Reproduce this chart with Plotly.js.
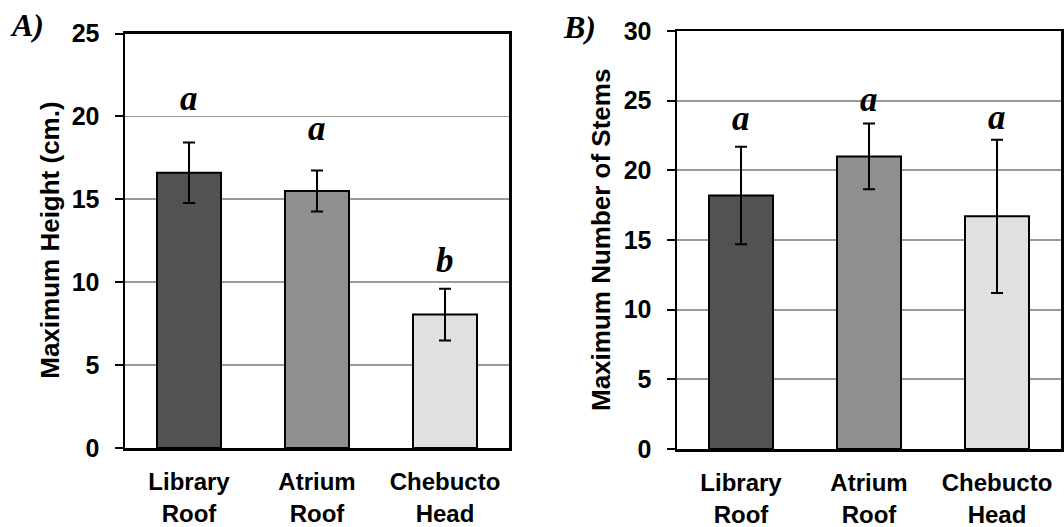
<!DOCTYPE html>
<html>
<head>
<meta charset="utf-8">
<script src="https://cdn.plot.ly/plotly-3.0.1.min.js"></script>
<style>html,body{margin:0;padding:0;background:#fff;}#chart{width:1064px;height:527px;}</style>
</head>
<body>
<div id="chart"></div>
<script>
var categories = ["Library<br>Roof", "Atrium<br>Roof", "Chebucto<br>Head"];
var barColors = ["#525252", "#8f8f8f", "#e0e0e0"];

var heightMeans = [16.6, 15.5, 8.05];
var heightErrors = [1.83, 1.24, 1.56];
var heightLetters = ["a", "a", "b"];
var heightLetterY = [21.1, 19.3, 11.3];

var stemMeans = [18.2, 21.0, 16.7];
var stemErrors = [3.5, 2.36, 5.5];
var stemLetters = ["a", "a", "a"];
var stemLetterY = [23.7, 25.1, 23.8];

var sans = "Liberation Sans, Arial, sans-serif";
var serif = "Liberation Serif, Times New Roman, serif";
var tickFont = {family: sans, size: 25, color: "#000", weight: "bold"};
var xTickFont = {family: sans, size: 24, color: "#000", weight: "bold"};
var letterFont = {family: serif, size: 35, color: "#000"};

function barTrace(means, errs, xa, ya) {
  return {
    type: "bar", x: categories, y: means, xaxis: xa, yaxis: ya,
    marker: {color: barColors, line: {color: "#000", width: 2}},
    error_y: {type: "data", array: errs, visible: true, color: "#000", thickness: 2, width: 6},
    showlegend: false, hoverinfo: "skip"
  };
}

var data = [
  barTrace(heightMeans, heightErrors, "x", "y"),
  barTrace(stemMeans, stemErrors, "x2", "y2")
];

function xAxis(domain, anchor) {
  return {
    domain: domain, anchor: anchor, showline: true, linecolor: "#000", linewidth: 2.5,
    mirror: true, ticks: "", showgrid: false, tickfont: xTickFont, fixedrange: true,
    ticklabelstandoff: 11
  };
}
function yAxis(domain, anchor, range) {
  return {
    domain: domain, anchor: anchor, range: range, dtick: 5, showline: true, linecolor: "#000",
    linewidth: 2.5, mirror: true, ticks: "outside", ticklen: 8, tickwidth: 2, tickcolor: "#000",
    showgrid: true, gridcolor: "#9a9a9a", gridwidth: 1.8, zeroline: false,
    tickfont: tickFont, ticklabelstandoff: 10, fixedrange: true
  };
}

var annotations = [];
heightLetters.forEach(function (t, i) {
  annotations.push({x: categories[i], y: heightLetterY[i], xref: "x", yref: "y",
    text: "<b><i>" + t + "</i></b>", showarrow: false, font: letterFont});
});
stemLetters.forEach(function (t, i) {
  annotations.push({x: categories[i], y: stemLetterY[i], xref: "x2", yref: "y2",
    text: "<b><i>" + t + "</i></b>", showarrow: false, font: letterFont});
});
var panelFont = {family: serif, size: 32, color: "#000"};
annotations.push({x: 27 / 1064, y: 1 - 25 / 527, xref: "paper", yref: "paper", xanchor: "center", yanchor: "middle",
  text: "<b><i>A)</i></b>", showarrow: false, font: panelFont});
annotations.push({x: 579 / 1064, y: 1 - 27 / 527, xref: "paper", yref: "paper", xanchor: "center", yanchor: "middle",
  text: "<b><i>B)</i></b>", showarrow: false, font: panelFont});
var titleFont = {family: sans, size: 26, color: "#000", weight: "bold"};
annotations.push({x: 50 / 1064, y: 0.5 * ((1 - 33.5 / 527) + (1 - 448 / 527)), xref: "paper", yref: "paper",
  xanchor: "center", yanchor: "middle",
  text: "<b>Maximum Height (cm.)</b>", textangle: -90, showarrow: false, font: titleFont});
annotations.push({x: 601 / 1064, y: 0.5 * ((1 - 31 / 527) + (1 - 449 / 527)), xref: "paper", yref: "paper",
  xanchor: "center", yanchor: "middle",
  text: "<b>Maximum Number of Stems</b>", textangle: -90, showarrow: false, font: titleFont});

var layout = {
  width: 1064, height: 527,
  margin: {l: 0, r: 0, t: 0, b: 0},
  paper_bgcolor: "#fff", plot_bgcolor: "#fff",
  bargap: 0.5,
  font: {family: sans, color: "#000"},
  xaxis: xAxis([125 / 1064, 509 / 1064], "y"),
  yaxis: yAxis([1 - 448 / 527, 1 - 33.5 / 527], "x", [0, 25]),
  xaxis2: xAxis([677 / 1064, 1061 / 1064], "y2"),
  yaxis2: yAxis([1 - 449 / 527, 1 - 31 / 527], "x2", [0, 30]),
  annotations: annotations,
  showlegend: false
};

Plotly.newPlot("chart", data, layout, {displayModeBar: false, staticPlot: true});
</script>
</body>
</html>
